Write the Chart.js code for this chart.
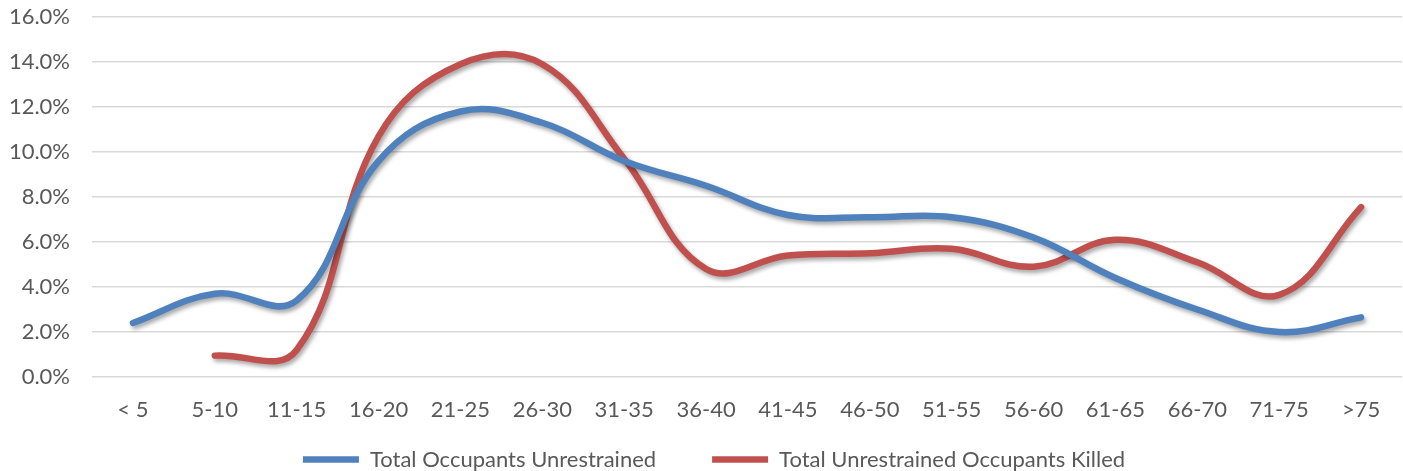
<!DOCTYPE html>
<html>
<head>
<meta charset="utf-8">
<script src="https://cdn.jsdelivr.net/npm/chart.js@4/dist/chart.umd.min.js"></script>
<style>
  html, body { margin: 0; padding: 0; background: #fff; }
  #wrap { width: 1403px; height: 471px; }
</style>
</head>
<body>
<div id="wrap"><canvas id="chart" width="1403" height="471"></canvas></div>
<script>
const ageGroups = ['< 5', '5-10', '11-15', '16-20', '21-25', '26-30', '31-35', '36-40',
                   '41-45', '46-50', '51-55', '56-60', '61-65', '66-70', '71-75', '>75'];
const unrestrained = [2.4, 3.7, 3.4, 9.6, 11.8, 11.3, 9.6, 8.5, 7.2, 7.1, 7.1, 6.2, 4.4, 3.0, 2.0, 2.65];
const unrestrainedKilled = [null, 0.95, 1.2, 10.7, 13.9, 13.9, 9.7, 4.8, 5.4, 5.5, 5.7, 4.9, 6.1, 5.1, 3.65, 7.55];
const yTicks = [0, 2, 4, 6, 8, 10, 12, 14, 16];

// pick the first installed family (compare against two different fallbacks)
function pickFont(list) {
    const c = document.createElement('canvas').getContext('2d');
    const probe = 'Total Occupants 16.0% 51-55';
    for (const f of list) {
        c.font = `20px '${f}', monospace`;
        const a = c.measureText(probe).width;
        c.font = `20px '${f}', serif`;
        const b = c.measureText(probe).width;
        if (a === b) return f;
    }
    return 'sans-serif';
}
const family = pickFont(['Liberation Sans Narrow', 'Lato', 'Open Sans']);
const textColor = '#595959';
const legendGap = 56;

const lineShadow = {
    id: 'lineShadow',
    beforeDatasetsDraw(chart) {
        const ctx = chart.ctx;
        ctx.save();
        ctx.shadowColor = 'rgba(0,0,0,0.35)';
        ctx.shadowBlur = 4;
        ctx.shadowOffsetX = 2;
        ctx.shadowOffsetY = 3;
    },
    afterDatasetsDraw(chart) {
        chart.ctx.restore();
    }
};

// legend padding is used for the gap between items, so place the row by hand
// (the legend clips to its own box, so the box has to cover the row)
const legendRow = {
    id: 'legendRow',
    afterLayout(chart) {
        const lg = chart.legend;
        lg.top = 460 - 11.5 - legendGap;
        lg.bottom = chart.height;
        lg.height = lg.bottom - lg.top;
        lg.left += 13;
        lg.right += 13;
    }
};

new Chart(document.getElementById('chart'), {
    type: 'line',
    data: {
        labels: ageGroups,
        datasets: [
            { label: 'Total Occupants Unrestrained', data: unrestrained, borderColor: '#4F81BD', backgroundColor: '#4F81BD',
              borderWidth: 6.5, borderCapStyle: 'round', pointRadius: 0, tension: 0.4 },
            { label: 'Total Unrestrained Occupants Killed', data: unrestrainedKilled, borderColor: '#C0504D', backgroundColor: '#C0504D',
              borderWidth: 6.5, borderCapStyle: 'round', pointRadius: 0, tension: 0.4 }
        ]
    },
    plugins: [lineShadow, legendRow],
    options: {
        responsive: false,
        animation: false,
        layout: { padding: { top: 17, right: 1, left: 0, bottom: 0 } },
        plugins: {
            tooltip: { enabled: false },
            legend: {
                position: 'bottom',
                maxHeight: 30,
                labels: {
                    usePointStyle: true, pointStyle: 'line', pointStyleWidth: 56,
                    padding: legendGap, color: textColor,
                    font: { family, size: 22 }
                }
            }
        },
        scales: {
            x: {
                offset: true,
                grid: { display: false },
                border: { display: false },
                ticks: { color: textColor, font: { family, size: 22 }, padding: 12, maxRotation: 0, autoSkip: false },
                afterFit: s => { s.height = 64; }
            },
            y: {
                min: 0, max: 16,
                // invisible tick marks keep the labels off the plot without adding top padding
                grid: { color: '#D9D9D9', lineWidth: 1.5, drawTicks: true, tickLength: 22, tickColor: 'rgba(0,0,0,0)' },
                border: { display: false },
                afterBuildTicks: s => { s.ticks = yTicks.map(v => ({ value: v })); },
                ticks: { color: textColor, font: { family, size: 22 }, padding: 0, callback: v => v.toFixed(1) + '%' },
                afterFit: s => { s.width = 92; }
            }
        }
    }
});
</script>
</body>
</html>
